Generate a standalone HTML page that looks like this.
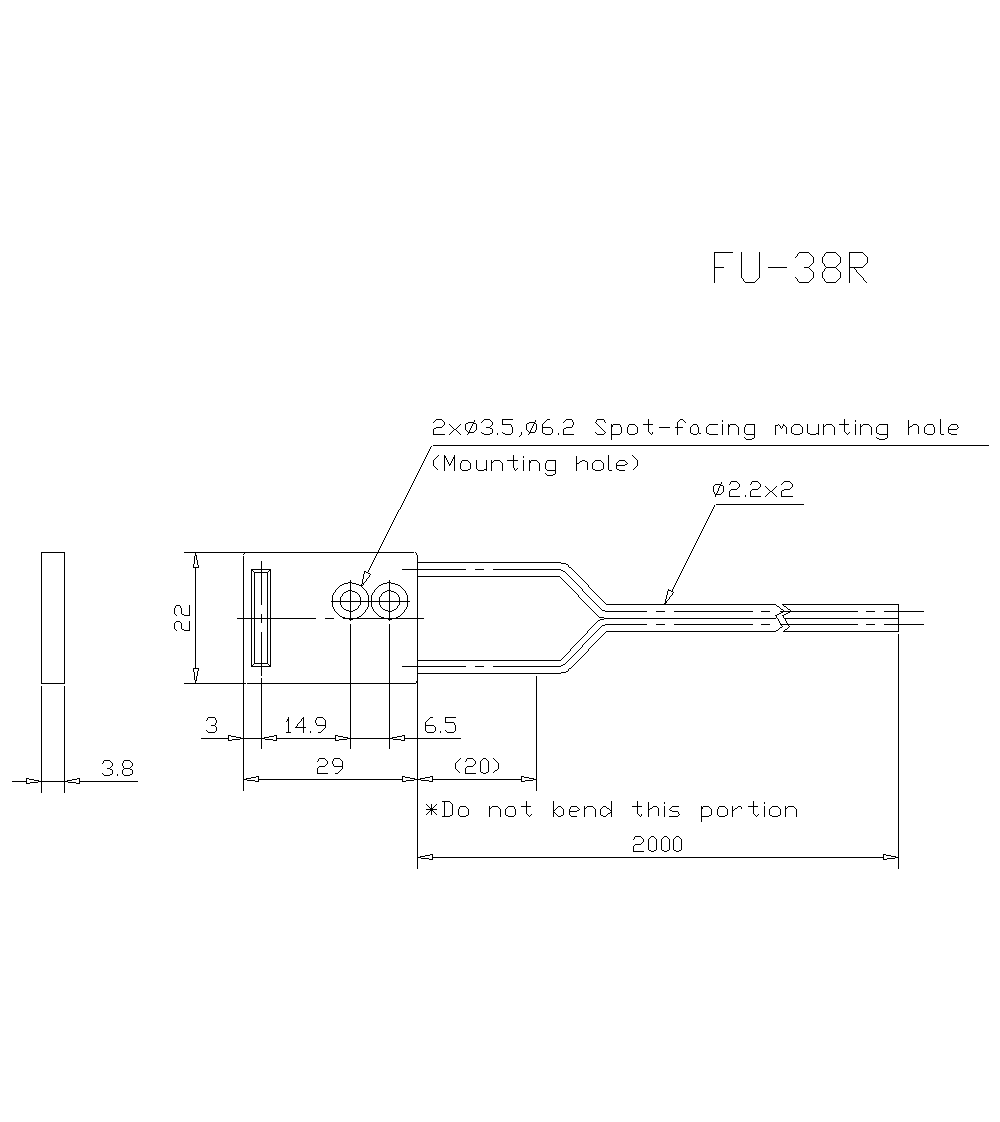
<!DOCTYPE html>
<html><head><meta charset="utf-8"><title>FU-38R</title><style>
html,body{margin:0;padding:0;background:#fff;}
svg{display:block;}
</style></head><body>
<svg width="1000" height="1122" viewBox="0 0 1000 1122">
<rect width="1000" height="1122" fill="#fff"/>
<path fill="#000" shape-rendering="crispEdges" d="M26 778h1v6h-1zM41 552h1v132h-1zM41 686h1v107h-1zM64 552h1v132h-1zM64 686h1v107h-1zM79 778h1v6h-1zM112 770h1v4h-1zM122 770h1v4h-1zM132 770h1v4h-1zM174 608h1v6h-1zM174 623h1v6h-1zM181 608h1v6h-1zM181 623h1v6h-1zM189 605h1v11h-1zM189 621h1v10h-1zM193 564h1v4h-1zM193 668h1v4h-1zM194 556h1v8h-1zM194 672h1v8h-1zM195 552h1v4h-1zM195 567h1v102h-1zM195 680h1v4h-1zM196 555h1v5h-1zM196 676h1v5h-1zM197 560h1v5h-1zM197 671h1v5h-1zM216 727h1v4h-1zM228 735h1v6h-1zM243 556h1v235h-1zM251 569h1v98h-1zM254 572h1v92h-1zM258 776h1v6h-1zM261 561h1v44h-1zM261 614h1v9h-1zM261 632h1v44h-1zM261 678h1v71h-1zM267 572h1v92h-1zM270 569h1v98h-1zM276 735h1v6h-1zM288 717h1v16h-1zM303 717h1v16h-1zM317 768h1v6h-1zM325 720h1v8h-1zM332 595h1v12h-1zM335 735h1v6h-1zM340 597h1v8h-1zM342 761h1v8h-1zM350 580h1v41h-1zM350 624h1v125h-1zM360 597h1v8h-1zM362 579h1v5h-1zM363 574h1v5h-1zM368 595h1v12h-1zM371 595h1v12h-1zM379 597h1v8h-1zM389 580h1v41h-1zM389 624h1v125h-1zM399 597h1v8h-1zM402 776h1v6h-1zM404 735h1v6h-1zM407 595h1v12h-1zM417 555h1v314h-1zM425 722h1v9h-1zM431 804h1v11h-1zM432 776h1v6h-1zM432 854h1v6h-1zM433 429h1v6h-1zM433 460h1v6h-1zM435 727h1v4h-1zM444 455h1v16h-1zM444 801h1v16h-1zM445 717h1v6h-1zM452 804h1v11h-1zM454 455h1v16h-1zM455 725h1v6h-1zM455 763h1v6h-1zM458 809h1v6h-1zM460 463h1v6h-1zM465 424h1v6h-1zM465 768h1v6h-1zM468 809h1v6h-1zM470 463h1v6h-1zM476 424h1v6h-1zM476 460h1v9h-1zM480 761h1v11h-1zM486 460h1v11h-1zM488 761h1v11h-1zM489 806h1v11h-1zM491 460h1v11h-1zM492 429h1v4h-1zM498 763h1v6h-1zM500 809h1v8h-1zM502 419h1v6h-1zM502 463h1v8h-1zM505 809h1v6h-1zM512 427h1v6h-1zM513 455h1v13h-1zM515 809h1v6h-1zM521 776h1v6h-1zM523 460h1v11h-1zM526 424h1v6h-1zM526 801h1v13h-1zM529 460h1v11h-1zM536 424h1v6h-1zM536 676h1v115h-1zM539 463h1v8h-1zM542 424h1v9h-1zM545 463h1v6h-1zM552 429h1v4h-1zM553 801h1v16h-1zM555 460h1v14h-1zM563 429h1v6h-1zM563 809h1v6h-1zM569 809h1v6h-1zM576 456h1v15h-1zM584 806h1v11h-1zM587 462h1v8h-1zM592 463h1v6h-1zM595 809h1v8h-1zM600 809h1v6h-1zM603 463h1v6h-1zM608 455h1v15h-1zM611 424h1v16h-1zM611 801h1v16h-1zM616 463h1v6h-1zM621 427h1v6h-1zM627 427h1v6h-1zM633 846h1v6h-1zM637 427h1v6h-1zM637 460h1v6h-1zM637 801h1v13h-1zM648 419h1v13h-1zM648 802h1v15h-1zM648 839h1v11h-1zM656 839h1v11h-1zM658 808h1v8h-1zM661 839h1v11h-1zM664 806h1v11h-1zM665 599h1v6h-1zM666 595h1v4h-1zM667 591h1v4h-1zM669 839h1v11h-1zM673 839h1v11h-1zM677 422h1v13h-1zM681 839h1v11h-1zM690 427h1v6h-1zM698 427h1v6h-1zM701 806h1v16h-1zM706 427h1v6h-1zM711 809h1v6h-1zM713 486h1v6h-1zM714 252h1v31h-1zM717 809h1v6h-1zM722 424h1v11h-1zM723 486h1v6h-1zM727 809h1v6h-1zM728 424h1v11h-1zM729 491h1v6h-1zM732 806h1v11h-1zM738 427h1v8h-1zM741 252h1v26h-1zM744 427h1v6h-1zM750 491h1v6h-1zM753 801h1v13h-1zM754 424h1v14h-1zM759 252h1v26h-1zM764 806h1v11h-1zM769 809h1v6h-1zM775 425h1v10h-1zM780 809h1v6h-1zM781 491h1v6h-1zM785 806h1v11h-1zM786 427h1v7h-1zM791 427h1v6h-1zM796 809h1v8h-1zM802 427h1v6h-1zM807 424h1v9h-1zM813 257h1v6h-1zM813 272h1v6h-1zM818 424h1v11h-1zM822 257h1v6h-1zM822 272h1v6h-1zM823 424h1v11h-1zM834 427h1v8h-1zM840 257h1v6h-1zM840 272h1v6h-1zM844 419h1v13h-1zM849 252h1v31h-1zM855 424h1v11h-1zM860 424h1v11h-1zM867 257h1v6h-1zM871 427h1v8h-1zM876 427h1v6h-1zM883 854h1v6h-1zM887 424h1v14h-1zM898 604h1v28h-1zM898 634h1v235h-1zM908 420h1v15h-1zM918 426h1v8h-1zM924 427h1v6h-1zM934 427h1v6h-1zM940 419h1v15h-1zM948 427h1v6h-1zM715 252h18v1h-18zM799 252h10v1h-10zM826 252h10v1h-10zM850 252h13v1h-13zM798 253h1v1h-1zM809 253h1v1h-1zM825 253h1v1h-1zM836 253h1v1h-1zM863 253h1v1h-1zM797 254h1v1h-1zM810 254h1v1h-1zM824 254h1v1h-1zM837 254h1v1h-1zM864 254h1v1h-1zM797 255h1v1h-1zM811 255h1v1h-1zM824 255h1v1h-1zM838 255h1v1h-1zM865 255h1v1h-1zM796 256h1v1h-1zM812 256h1v1h-1zM823 256h1v1h-1zM839 256h1v1h-1zM866 256h1v1h-1zM795 257h1v1h-1zM812 263h1v1h-1zM823 263h1v1h-1zM839 263h1v1h-1zM866 263h1v1h-1zM811 264h1v1h-1zM824 264h1v1h-1zM838 264h1v1h-1zM865 264h1v1h-1zM810 265h1v1h-1zM824 265h1v1h-1zM837 265h1v1h-1zM864 265h1v1h-1zM809 266h1v1h-1zM825 266h1v1h-1zM836 266h1v1h-1zM863 266h1v1h-1zM715 267h9v1h-9zM768 267h19v1h-19zM804 267h5v1h-5zM826 267h10v1h-10zM850 267h13v1h-13zM809 268h1v1h-1zM825 268h1v1h-1zM836 268h1v1h-1zM854 268h1v1h-1zM810 269h1v1h-1zM824 269h1v1h-1zM837 269h1v1h-1zM855 269h1v1h-1zM811 270h1v1h-1zM824 270h1v1h-1zM838 270h1v1h-1zM856 270h1v1h-1zM812 271h1v1h-1zM823 271h1v1h-1zM839 271h1v1h-1zM856 271h1v1h-1zM857 272h1v1h-1zM858 273h1v1h-1zM859 274h1v1h-1zM860 275h1v1h-1zM861 276h1v1h-1zM795 277h1v1h-1zM862 277h1v1h-1zM742 278h1v1h-1zM758 278h1v1h-1zM796 278h1v1h-1zM812 278h1v1h-1zM823 278h1v1h-1zM839 278h1v1h-1zM863 278h1v1h-1zM743 279h1v1h-1zM757 279h1v1h-1zM797 279h1v1h-1zM811 279h1v1h-1zM824 279h1v1h-1zM838 279h1v1h-1zM863 279h1v1h-1zM743 280h1v1h-1zM756 280h1v1h-1zM797 280h1v1h-1zM810 280h1v1h-1zM824 280h1v1h-1zM837 280h1v1h-1zM864 280h1v1h-1zM744 281h1v1h-1zM755 281h1v1h-1zM798 281h1v1h-1zM809 281h1v1h-1zM825 281h1v1h-1zM836 281h1v1h-1zM865 281h1v1h-1zM745 282h10v1h-10zM799 282h10v1h-10zM826 282h10v1h-10zM866 282h1v1h-1zM436 419h6v1h-6zM484 419h6v1h-6zM503 419h10v1h-10zM547 419h3v1h-3zM566 419h6v1h-6zM597 419h7v1h-7zM680 419h3v1h-3zM435 420h1v1h-1zM442 420h1v1h-1zM474 420h1v1h-1zM483 420h1v1h-1zM490 420h1v1h-1zM535 420h1v1h-1zM546 420h1v1h-1zM565 420h1v1h-1zM572 420h1v1h-1zM596 420h1v1h-1zM604 420h1v1h-1zM679 420h1v1h-1zM683 420h1v1h-1zM722 420h1v1h-1zM855 420h1v1h-1zM434 421h1v1h-1zM443 421h1v1h-1zM474 421h1v1h-1zM482 421h1v1h-1zM491 421h1v1h-1zM535 421h1v1h-1zM545 421h1v1h-1zM564 421h1v1h-1zM572 421h1v1h-1zM596 421h1v1h-1zM604 421h1v1h-1zM678 421h1v1h-1zM684 421h1v1h-1zM722 421h1v1h-1zM855 421h1v1h-1zM433 422h1v1h-1zM444 422h1v1h-1zM468 422h6v1h-6zM481 422h1v1h-1zM492 422h1v1h-1zM529 422h6v1h-6zM544 422h1v1h-1zM563 422h1v1h-1zM573 422h1v1h-1zM595 422h1v1h-1zM605 422h1v1h-1zM685 422h1v1h-1zM444 423h1v1h-1zM466 423h2v1h-2zM473 423h3v1h-3zM492 423h1v1h-1zM527 423h2v1h-2zM534 423h2v1h-2zM543 423h1v1h-1zM573 423h1v1h-1zM596 423h1v1h-1zM444 424h1v1h-1zM449 424h1v1h-1zM460 424h1v1h-1zM472 424h1v1h-1zM492 424h1v1h-1zM503 424h8v1h-8zM533 424h1v1h-1zM573 424h1v1h-1zM597 424h1v1h-1zM613 424h7v1h-7zM629 424h6v1h-6zM643 424h5v1h-5zM649 424h4v1h-4zM693 424h4v1h-4zM709 424h9v1h-9zM730 424h6v1h-6zM746 424h8v1h-8zM778 424h1v1h-1zM783 424h1v1h-1zM794 424h6v1h-6zM826 424h6v1h-6zM839 424h5v1h-5zM845 424h4v1h-4zM863 424h6v1h-6zM879 424h8v1h-8zM913 424h4v1h-4zM927 424h6v1h-6zM951 424h6v1h-6zM443 425h1v1h-1zM450 425h1v1h-1zM459 425h1v1h-1zM472 425h1v1h-1zM491 425h1v1h-1zM511 425h1v1h-1zM533 425h1v1h-1zM572 425h1v1h-1zM598 425h1v1h-1zM612 425h1v1h-1zM620 425h1v1h-1zM628 425h1v1h-1zM635 425h1v1h-1zM692 425h1v1h-1zM697 425h1v1h-1zM708 425h1v1h-1zM729 425h1v1h-1zM736 425h1v1h-1zM745 425h1v1h-1zM776 425h2v1h-2zM779 425h1v1h-1zM783 425h2v1h-2zM793 425h1v1h-1zM800 425h1v1h-1zM825 425h1v1h-1zM832 425h1v1h-1zM862 425h1v1h-1zM869 425h1v1h-1zM878 425h1v1h-1zM912 425h1v1h-1zM917 425h1v1h-1zM926 425h1v1h-1zM933 425h1v1h-1zM950 425h1v1h-1zM957 425h1v1h-1zM442 426h1v1h-1zM451 426h1v1h-1zM458 426h1v1h-1zM471 426h1v1h-1zM490 426h1v1h-1zM511 426h1v1h-1zM532 426h1v1h-1zM572 426h1v1h-1zM599 426h1v1h-1zM612 426h1v1h-1zM620 426h1v1h-1zM628 426h1v1h-1zM636 426h1v1h-1zM691 426h1v1h-1zM697 426h1v1h-1zM707 426h1v1h-1zM729 426h1v1h-1zM737 426h1v1h-1zM745 426h1v1h-1zM780 426h1v1h-1zM782 426h1v1h-1zM785 426h1v1h-1zM792 426h1v1h-1zM801 426h1v1h-1zM824 426h1v1h-1zM833 426h1v1h-1zM861 426h1v1h-1zM870 426h1v1h-1zM877 426h1v1h-1zM910 426h2v1h-2zM925 426h1v1h-1zM933 426h1v1h-1zM949 426h1v1h-1zM957 426h1v1h-1zM436 427h6v1h-6zM452 427h1v1h-1zM457 427h1v1h-1zM471 427h1v1h-1zM486 427h4v1h-4zM532 427h1v1h-1zM543 427h8v1h-8zM566 427h6v1h-6zM600 427h1v1h-1zM659 427h11v1h-11zM675 427h2v1h-2zM678 427h5v1h-5zM780 427h1v1h-1zM782 427h1v1h-1zM909 427h1v1h-1zM958 427h1v1h-1zM434 428h2v1h-2zM453 428h1v1h-1zM456 428h1v1h-1zM470 428h1v1h-1zM490 428h2v1h-2zM531 428h1v1h-1zM551 428h1v1h-1zM564 428h2v1h-2zM601 428h1v1h-1zM781 428h1v1h-1zM957 428h1v1h-1zM454 429h2v1h-2zM470 429h1v1h-1zM531 429h1v1h-1zM602 429h1v1h-1zM949 429h8v1h-8zM453 430h1v1h-1zM456 430h1v1h-1zM466 430h1v1h-1zM469 430h1v1h-1zM475 430h1v1h-1zM527 430h1v1h-1zM530 430h1v1h-1zM535 430h1v1h-1zM603 430h1v1h-1zM452 431h1v1h-1zM457 431h1v1h-1zM467 431h1v1h-1zM469 431h1v1h-1zM474 431h1v1h-1zM528 431h1v1h-1zM530 431h1v1h-1zM535 431h1v1h-1zM604 431h1v1h-1zM451 432h1v1h-1zM458 432h1v1h-1zM468 432h6v1h-6zM481 432h1v1h-1zM502 432h1v1h-1zM521 432h1v1h-1zM529 432h6v1h-6zM595 432h1v1h-1zM605 432h1v1h-1zM649 432h1v1h-1zM652 432h1v1h-1zM845 432h1v1h-1zM849 432h1v1h-1zM450 433h1v1h-1zM459 433h1v1h-1zM468 433h1v1h-1zM482 433h2v1h-2zM490 433h2v1h-2zM497 433h1v1h-1zM503 433h2v1h-2zM511 433h1v1h-1zM521 433h1v1h-1zM529 433h1v1h-1zM543 433h2v1h-2zM551 433h1v1h-1zM558 433h1v1h-1zM596 433h1v1h-1zM604 433h1v1h-1zM620 433h1v1h-1zM628 433h1v1h-1zM635 433h2v1h-2zM650 433h1v1h-1zM652 433h1v1h-1zM691 433h2v1h-2zM697 433h1v1h-1zM699 433h2v1h-2zM707 433h2v1h-2zM745 433h1v1h-1zM792 433h2v1h-2zM800 433h2v1h-2zM808 433h2v1h-2zM816 433h2v1h-2zM846 433h1v1h-1zM848 433h1v1h-1zM877 433h2v1h-2zM925 433h2v1h-2zM933 433h1v1h-1zM949 433h2v1h-2zM434 434h11v1h-11zM449 434h1v1h-1zM460 434h1v1h-1zM467 434h1v1h-1zM484 434h6v1h-6zM497 434h1v1h-1zM505 434h6v1h-6zM521 434h1v1h-1zM528 434h1v1h-1zM545 434h6v1h-6zM558 434h1v1h-1zM564 434h10v1h-10zM597 434h7v1h-7zM612 434h8v1h-8zM629 434h6v1h-6zM651 434h1v1h-1zM693 434h4v1h-4zM709 434h9v1h-9zM746 434h8v1h-8zM794 434h6v1h-6zM810 434h6v1h-6zM847 434h1v1h-1zM879 434h8v1h-8zM927 434h6v1h-6zM941 434h3v1h-3zM951 434h6v1h-6zM520 435h1v1h-1zM519 436h1v1h-1zM744 437h1v1h-1zM876 437h1v1h-1zM745 438h1v1h-1zM752 438h2v1h-2zM877 438h2v1h-2zM885 438h2v1h-2zM746 439h6v1h-6zM879 439h6v1h-6zM433 445h556v1h-556zM431 446h1v1h-1zM430 447h1v1h-1zM430 448h1v1h-1zM429 449h1v1h-1zM429 450h1v1h-1zM428 451h1v1h-1zM428 452h1v1h-1zM427 453h1v1h-1zM427 454h1v1h-1zM426 455h1v1h-1zM438 455h1v1h-1zM632 455h1v1h-1zM426 456h1v1h-1zM437 456h1v1h-1zM445 456h1v1h-1zM523 456h1v1h-1zM633 456h1v1h-1zM425 457h1v1h-1zM436 457h1v1h-1zM445 457h1v1h-1zM453 457h1v1h-1zM523 457h1v1h-1zM634 457h1v1h-1zM425 458h1v1h-1zM435 458h1v1h-1zM446 458h1v1h-1zM453 458h1v1h-1zM635 458h1v1h-1zM424 459h1v1h-1zM434 459h1v1h-1zM446 459h1v1h-1zM452 459h1v1h-1zM636 459h1v1h-1zM424 460h1v1h-1zM447 460h1v1h-1zM452 460h1v1h-1zM462 460h6v1h-6zM494 460h6v1h-6zM507 460h6v1h-6zM514 460h4v1h-4zM531 460h6v1h-6zM547 460h8v1h-8zM582 460h3v1h-3zM595 460h6v1h-6zM619 460h6v1h-6zM423 461h1v1h-1zM447 461h1v1h-1zM451 461h1v1h-1zM461 461h1v1h-1zM468 461h1v1h-1zM493 461h1v1h-1zM500 461h1v1h-1zM530 461h1v1h-1zM537 461h1v1h-1zM546 461h1v1h-1zM580 461h2v1h-2zM585 461h2v1h-2zM594 461h1v1h-1zM601 461h1v1h-1zM618 461h1v1h-1zM625 461h1v1h-1zM423 462h1v1h-1zM448 462h1v1h-1zM451 462h1v1h-1zM461 462h1v1h-1zM469 462h1v1h-1zM492 462h1v1h-1zM501 462h1v1h-1zM530 462h1v1h-1zM538 462h1v1h-1zM546 462h1v1h-1zM579 462h1v1h-1zM593 462h1v1h-1zM602 462h1v1h-1zM617 462h1v1h-1zM626 462h1v1h-1zM422 463h1v1h-1zM448 463h1v1h-1zM450 463h1v1h-1zM577 463h2v1h-2zM627 463h1v1h-1zM422 464h1v1h-1zM449 464h2v1h-2zM625 464h2v1h-2zM421 465h1v1h-1zM449 465h1v1h-1zM617 465h8v1h-8zM421 466h1v1h-1zM434 466h1v1h-1zM636 466h1v1h-1zM420 467h1v1h-1zM435 467h1v1h-1zM635 467h1v1h-1zM420 468h1v1h-1zM436 468h1v1h-1zM514 468h1v1h-1zM517 468h1v1h-1zM634 468h1v1h-1zM419 469h1v1h-1zM437 469h1v1h-1zM461 469h1v1h-1zM468 469h2v1h-2zM477 469h1v1h-1zM484 469h2v1h-2zM514 469h1v1h-1zM516 469h1v1h-1zM546 469h1v1h-1zM593 469h2v1h-2zM601 469h2v1h-2zM617 469h2v1h-2zM633 469h1v1h-1zM419 470h1v1h-1zM462 470h6v1h-6zM478 470h6v1h-6zM515 470h1v1h-1zM547 470h8v1h-8zM595 470h6v1h-6zM609 470h3v1h-3zM619 470h6v1h-6zM418 471h1v1h-1zM418 472h1v1h-1zM417 473h1v1h-1zM545 473h1v1h-1zM417 474h1v1h-1zM546 474h1v1h-1zM553 474h2v1h-2zM416 475h1v1h-1zM547 475h6v1h-6zM416 476h1v1h-1zM415 477h1v1h-1zM415 478h1v1h-1zM414 479h1v1h-1zM414 480h1v1h-1zM413 481h1v1h-1zM731 481h6v1h-6zM752 481h6v1h-6zM784 481h6v1h-6zM413 482h1v1h-1zM721 482h1v1h-1zM730 482h1v1h-1zM737 482h1v1h-1zM751 482h1v1h-1zM758 482h1v1h-1zM783 482h1v1h-1zM790 482h1v1h-1zM412 483h1v1h-1zM721 483h1v1h-1zM730 483h1v1h-1zM738 483h1v1h-1zM751 483h1v1h-1zM759 483h1v1h-1zM782 483h1v1h-1zM791 483h1v1h-1zM412 484h1v1h-1zM715 484h6v1h-6zM729 484h1v1h-1zM739 484h1v1h-1zM750 484h1v1h-1zM760 484h1v1h-1zM781 484h1v1h-1zM792 484h1v1h-1zM411 485h1v1h-1zM714 485h1v1h-1zM720 485h3v1h-3zM739 485h1v1h-1zM760 485h1v1h-1zM792 485h1v1h-1zM411 486h1v1h-1zM719 486h1v1h-1zM739 486h1v1h-1zM760 486h1v1h-1zM765 486h1v1h-1zM776 486h1v1h-1zM792 486h1v1h-1zM410 487h1v1h-1zM719 487h1v1h-1zM738 487h1v1h-1zM759 487h1v1h-1zM766 487h1v1h-1zM775 487h1v1h-1zM791 487h1v1h-1zM410 488h1v1h-1zM718 488h1v1h-1zM737 488h1v1h-1zM758 488h1v1h-1zM767 488h1v1h-1zM774 488h1v1h-1zM790 488h1v1h-1zM409 489h1v1h-1zM718 489h1v1h-1zM731 489h6v1h-6zM752 489h6v1h-6zM768 489h1v1h-1zM773 489h1v1h-1zM784 489h6v1h-6zM409 490h1v1h-1zM718 490h1v1h-1zM730 490h1v1h-1zM751 490h1v1h-1zM769 490h1v1h-1zM772 490h1v1h-1zM782 490h2v1h-2zM408 491h1v1h-1zM717 491h1v1h-1zM770 491h2v1h-2zM408 492h1v1h-1zM714 492h1v1h-1zM717 492h1v1h-1zM722 492h1v1h-1zM769 492h1v1h-1zM772 492h1v1h-1zM407 493h1v1h-1zM714 493h1v1h-1zM716 493h1v1h-1zM721 493h1v1h-1zM768 493h1v1h-1zM773 493h1v1h-1zM407 494h1v1h-1zM715 494h6v1h-6zM767 494h1v1h-1zM774 494h1v1h-1zM406 495h1v1h-1zM715 495h1v1h-1zM745 495h1v1h-1zM766 495h1v1h-1zM775 495h1v1h-1zM406 496h1v1h-1zM715 496h1v1h-1zM730 496h10v1h-10zM745 496h1v1h-1zM751 496h10v1h-10zM765 496h1v1h-1zM776 496h1v1h-1zM782 496h11v1h-11zM405 497h1v1h-1zM405 498h1v1h-1zM404 499h1v1h-1zM404 500h1v1h-1zM403 501h1v1h-1zM403 502h1v1h-1zM402 503h1v1h-1zM402 504h1v1h-1zM716 504h88v1h-88zM401 505h1v1h-1zM714 505h1v1h-1zM401 506h1v1h-1zM714 506h1v1h-1zM400 507h1v1h-1zM713 507h1v1h-1zM400 508h1v1h-1zM713 508h1v1h-1zM399 509h1v1h-1zM712 509h1v1h-1zM398 510h1v1h-1zM712 510h1v1h-1zM398 511h1v1h-1zM711 511h1v1h-1zM397 512h1v1h-1zM711 512h1v1h-1zM397 513h1v1h-1zM710 513h1v1h-1zM396 514h1v1h-1zM710 514h1v1h-1zM396 515h1v1h-1zM709 515h1v1h-1zM395 516h1v1h-1zM709 516h1v1h-1zM395 517h1v1h-1zM708 517h1v1h-1zM394 518h1v1h-1zM708 518h1v1h-1zM394 519h1v1h-1zM707 519h1v1h-1zM393 520h1v1h-1zM707 520h1v1h-1zM393 521h1v1h-1zM706 521h1v1h-1zM392 522h1v1h-1zM706 522h1v1h-1zM392 523h1v1h-1zM705 523h1v1h-1zM391 524h1v1h-1zM705 524h1v1h-1zM391 525h1v1h-1zM704 525h1v1h-1zM390 526h1v1h-1zM704 526h1v1h-1zM390 527h1v1h-1zM703 527h1v1h-1zM389 528h1v1h-1zM703 528h1v1h-1zM389 529h1v1h-1zM702 529h1v1h-1zM388 530h1v1h-1zM702 530h1v1h-1zM388 531h1v1h-1zM701 531h1v1h-1zM387 532h1v1h-1zM701 532h1v1h-1zM387 533h1v1h-1zM700 533h1v1h-1zM386 534h1v1h-1zM700 534h1v1h-1zM386 535h1v1h-1zM699 535h1v1h-1zM385 536h1v1h-1zM699 536h1v1h-1zM385 537h1v1h-1zM698 537h1v1h-1zM384 538h1v1h-1zM698 538h1v1h-1zM384 539h1v1h-1zM697 539h1v1h-1zM383 540h1v1h-1zM697 540h1v1h-1zM383 541h1v1h-1zM696 541h1v1h-1zM382 542h1v1h-1zM696 542h1v1h-1zM382 543h1v1h-1zM695 543h1v1h-1zM381 544h1v1h-1zM695 544h1v1h-1zM381 545h1v1h-1zM694 545h1v1h-1zM380 546h1v1h-1zM694 546h1v1h-1zM380 547h1v1h-1zM693 547h1v1h-1zM379 548h1v1h-1zM693 548h1v1h-1zM379 549h1v1h-1zM692 549h1v1h-1zM378 550h1v1h-1zM692 550h1v1h-1zM378 551h1v1h-1zM691 551h1v1h-1zM42 552h22v1h-22zM184 552h11v1h-11zM196 552h218v1h-218zM415 552h1v1h-1zM691 552h1v1h-1zM244 553h1v1h-1zM377 553h1v1h-1zM416 553h1v1h-1zM690 553h1v1h-1zM243 554h1v1h-1zM376 554h1v1h-1zM416 554h1v1h-1zM690 554h1v1h-1zM376 555h1v1h-1zM689 555h1v1h-1zM375 556h1v1h-1zM689 556h1v1h-1zM375 557h1v1h-1zM688 557h1v1h-1zM374 558h1v1h-1zM688 558h1v1h-1zM374 559h1v1h-1zM687 559h1v1h-1zM373 560h1v1h-1zM687 560h1v1h-1zM373 561h1v1h-1zM686 561h1v1h-1zM372 562h1v1h-1zM418 562h143v1h-143zM686 562h1v1h-1zM372 563h1v1h-1zM561 563h5v1h-5zM685 563h1v1h-1zM371 564h1v1h-1zM566 564h2v1h-2zM685 564h1v1h-1zM198 565h1v1h-1zM371 565h1v1h-1zM568 565h1v1h-1zM684 565h1v1h-1zM198 566h1v1h-1zM370 566h1v1h-1zM568 566h1v1h-1zM684 566h1v1h-1zM194 567h1v1h-1zM196 567h3v1h-3zM370 567h1v1h-1zM569 567h2v1h-2zM683 567h1v1h-1zM369 568h1v1h-1zM571 568h1v1h-1zM683 568h1v1h-1zM252 569h9v1h-9zM262 569h8v1h-8zM369 569h1v1h-1zM402 569h15v1h-15zM418 569h48v1h-48zM475 569h9v1h-9zM493 569h68v1h-68zM572 569h1v1h-1zM682 569h1v1h-1zM252 570h1v1h-1zM269 570h1v1h-1zM368 570h1v1h-1zM561 570h2v1h-2zM573 570h1v1h-1zM682 570h1v1h-1zM253 571h1v1h-1zM268 571h1v1h-1zM364 571h2v1h-2zM368 571h1v1h-1zM563 571h2v1h-2zM574 571h1v1h-1zM681 571h1v1h-1zM255 572h6v1h-6zM262 572h5v1h-5zM364 572h1v1h-1zM366 572h2v1h-2zM565 572h1v1h-1zM575 572h1v1h-1zM681 572h1v1h-1zM364 573h1v1h-1zM368 573h2v1h-2zM566 573h1v1h-1zM576 573h1v1h-1zM680 573h1v1h-1zM370 574h1v1h-1zM567 574h1v1h-1zM577 574h1v1h-1zM680 574h1v1h-1zM369 575h1v1h-1zM568 575h1v1h-1zM578 575h1v1h-1zM679 575h1v1h-1zM369 576h1v1h-1zM418 576h142v1h-142zM569 576h1v1h-1zM579 576h1v1h-1zM679 576h1v1h-1zM368 577h1v1h-1zM560 577h1v1h-1zM570 577h1v1h-1zM580 577h1v1h-1zM678 577h1v1h-1zM367 578h1v1h-1zM561 578h1v1h-1zM571 578h1v1h-1zM581 578h1v1h-1zM678 578h1v1h-1zM366 579h1v1h-1zM562 579h1v1h-1zM572 579h1v1h-1zM582 579h1v1h-1zM677 579h1v1h-1zM366 580h1v1h-1zM563 580h1v1h-1zM573 580h1v1h-1zM583 580h1v1h-1zM677 580h1v1h-1zM365 581h1v1h-1zM564 581h1v1h-1zM574 581h1v1h-1zM584 581h1v1h-1zM676 581h1v1h-1zM348 582h2v1h-2zM351 582h1v1h-1zM364 582h1v1h-1zM387 582h2v1h-2zM390 582h1v1h-1zM565 582h1v1h-1zM575 582h1v1h-1zM585 582h1v1h-1zM676 582h1v1h-1zM344 583h4v1h-4zM352 583h4v1h-4zM363 583h1v1h-1zM383 583h4v1h-4zM391 583h4v1h-4zM566 583h1v1h-1zM576 583h1v1h-1zM586 583h1v1h-1zM675 583h1v1h-1zM342 584h2v1h-2zM356 584h3v1h-3zM361 584h1v1h-1zM363 584h1v1h-1zM381 584h2v1h-2zM395 584h3v1h-3zM567 584h1v1h-1zM577 584h1v1h-1zM587 584h1v1h-1zM675 584h1v1h-1zM340 585h2v1h-2zM359 585h4v1h-4zM379 585h2v1h-2zM398 585h2v1h-2zM568 585h1v1h-1zM578 585h1v1h-1zM588 585h1v1h-1zM674 585h1v1h-1zM339 586h1v1h-1zM361 586h1v1h-1zM378 586h1v1h-1zM400 586h1v1h-1zM569 586h1v1h-1zM579 586h1v1h-1zM588 586h1v1h-1zM674 586h1v1h-1zM338 587h1v1h-1zM362 587h1v1h-1zM377 587h1v1h-1zM401 587h1v1h-1zM570 587h1v1h-1zM580 587h1v1h-1zM589 587h1v1h-1zM673 587h1v1h-1zM337 588h1v1h-1zM363 588h1v1h-1zM376 588h1v1h-1zM402 588h1v1h-1zM571 588h1v1h-1zM581 588h1v1h-1zM590 588h1v1h-1zM673 588h1v1h-1zM336 589h1v1h-1zM364 589h1v1h-1zM375 589h1v1h-1zM403 589h1v1h-1zM572 589h1v1h-1zM582 589h1v1h-1zM591 589h1v1h-1zM668 589h1v1h-1zM672 589h1v1h-1zM335 590h1v1h-1zM348 590h2v1h-2zM351 590h1v1h-1zM365 590h1v1h-1zM374 590h1v1h-1zM387 590h2v1h-2zM390 590h1v1h-1zM404 590h1v1h-1zM573 590h1v1h-1zM582 590h1v1h-1zM592 590h1v1h-1zM668 590h3v1h-3zM672 590h1v1h-1zM335 591h1v1h-1zM346 591h2v1h-2zM352 591h3v1h-3zM366 591h1v1h-1zM374 591h1v1h-1zM385 591h2v1h-2zM391 591h3v1h-3zM405 591h1v1h-1zM574 591h1v1h-1zM583 591h1v1h-1zM593 591h1v1h-1zM671 591h2v1h-2zM334 592h1v1h-1zM344 592h2v1h-2zM355 592h2v1h-2zM366 592h1v1h-1zM373 592h1v1h-1zM383 592h2v1h-2zM394 592h2v1h-2zM405 592h1v1h-1zM575 592h1v1h-1zM584 592h1v1h-1zM594 592h1v1h-1zM673 592h1v1h-1zM333 593h1v1h-1zM343 593h1v1h-1zM357 593h1v1h-1zM367 593h1v1h-1zM372 593h1v1h-1zM382 593h1v1h-1zM396 593h1v1h-1zM406 593h1v1h-1zM576 593h1v1h-1zM585 593h1v1h-1zM595 593h1v1h-1zM672 593h1v1h-1zM333 594h1v1h-1zM342 594h1v1h-1zM358 594h1v1h-1zM367 594h1v1h-1zM372 594h1v1h-1zM381 594h1v1h-1zM397 594h1v1h-1zM406 594h1v1h-1zM577 594h1v1h-1zM586 594h1v1h-1zM596 594h1v1h-1zM672 594h1v1h-1zM342 595h1v1h-1zM359 595h1v1h-1zM381 595h1v1h-1zM398 595h1v1h-1zM578 595h1v1h-1zM587 595h1v1h-1zM597 595h1v1h-1zM671 595h1v1h-1zM341 596h1v1h-1zM359 596h1v1h-1zM380 596h1v1h-1zM398 596h1v1h-1zM578 596h1v1h-1zM588 596h1v1h-1zM598 596h1v1h-1zM670 596h1v1h-1zM579 597h1v1h-1zM589 597h1v1h-1zM599 597h1v1h-1zM669 597h1v1h-1zM580 598h1v1h-1zM590 598h1v1h-1zM600 598h1v1h-1zM669 598h1v1h-1zM581 599h1v1h-1zM591 599h1v1h-1zM601 599h1v1h-1zM668 599h1v1h-1zM582 600h1v1h-1zM592 600h1v1h-1zM602 600h1v1h-1zM667 600h1v1h-1zM331 601h1v1h-1zM333 601h7v1h-7zM341 601h9v1h-9zM351 601h9v1h-9zM361 601h7v1h-7zM369 601h2v1h-2zM372 601h7v1h-7zM380 601h9v1h-9zM390 601h9v1h-9zM400 601h7v1h-7zM408 601h2v1h-2zM583 601h1v1h-1zM593 601h1v1h-1zM603 601h1v1h-1zM666 601h1v1h-1zM584 602h1v1h-1zM594 602h1v1h-1zM604 602h1v1h-1zM666 602h1v1h-1zM585 603h1v1h-1zM595 603h1v1h-1zM605 603h1v1h-1zM664 603h1v1h-1zM586 604h1v1h-1zM596 604h1v1h-1zM606 604h59v1h-59zM666 604h110v1h-110zM782 604h116v1h-116zM176 605h4v1h-4zM341 605h1v1h-1zM359 605h1v1h-1zM380 605h1v1h-1zM398 605h1v1h-1zM587 605h1v1h-1zM597 605h1v1h-1zM776 605h1v1h-1zM783 605h1v1h-1zM175 606h1v1h-1zM180 606h1v1h-1zM341 606h1v1h-1zM358 606h1v1h-1zM380 606h1v1h-1zM397 606h1v1h-1zM588 606h1v1h-1zM598 606h1v1h-1zM777 606h2v1h-2zM784 606h2v1h-2zM175 607h1v1h-1zM180 607h1v1h-1zM333 607h1v1h-1zM342 607h1v1h-1zM358 607h1v1h-1zM367 607h1v1h-1zM372 607h1v1h-1zM381 607h1v1h-1zM397 607h1v1h-1zM406 607h1v1h-1zM589 607h1v1h-1zM599 607h1v1h-1zM779 607h1v1h-1zM786 607h1v1h-1zM333 608h1v1h-1zM343 608h1v1h-1zM357 608h1v1h-1zM367 608h1v1h-1zM372 608h1v1h-1zM382 608h1v1h-1zM396 608h1v1h-1zM406 608h1v1h-1zM590 608h1v1h-1zM600 608h1v1h-1zM780 608h1v1h-1zM787 608h1v1h-1zM334 609h1v1h-1zM344 609h2v1h-2zM355 609h2v1h-2zM366 609h1v1h-1zM373 609h1v1h-1zM383 609h2v1h-2zM394 609h2v1h-2zM405 609h1v1h-1zM591 609h1v1h-1zM601 609h1v1h-1zM781 609h2v1h-2zM788 609h2v1h-2zM334 610h1v1h-1zM346 610h3v1h-3zM353 610h2v1h-2zM365 610h1v1h-1zM373 610h1v1h-1zM385 610h3v1h-3zM392 610h2v1h-2zM404 610h1v1h-1zM592 610h1v1h-1zM602 610h3v1h-3zM783 610h1v1h-1zM790 610h1v1h-1zM335 611h1v1h-1zM349 611h1v1h-1zM351 611h2v1h-2zM365 611h1v1h-1zM374 611h1v1h-1zM388 611h1v1h-1zM390 611h2v1h-2zM404 611h1v1h-1zM593 611h1v1h-1zM605 611h42v1h-42zM656 611h9v1h-9zM674 611h79v1h-79zM761 611h9v1h-9zM780 611h78v1h-78zM866 611h9v1h-9zM884 611h14v1h-14zM899 611h25v1h-25zM336 612h1v1h-1zM364 612h1v1h-1zM375 612h1v1h-1zM403 612h1v1h-1zM594 612h1v1h-1zM781 612h2v1h-2zM788 612h2v1h-2zM337 613h1v1h-1zM363 613h1v1h-1zM376 613h1v1h-1zM402 613h1v1h-1zM595 613h1v1h-1zM779 613h2v1h-2zM786 613h2v1h-2zM175 614h1v1h-1zM182 614h2v1h-2zM338 614h1v1h-1zM362 614h1v1h-1zM377 614h1v1h-1zM401 614h1v1h-1zM596 614h1v1h-1zM777 614h2v1h-2zM784 614h2v1h-2zM176 615h1v1h-1zM184 615h5v1h-5zM339 615h1v1h-1zM361 615h1v1h-1zM378 615h1v1h-1zM400 615h1v1h-1zM597 615h1v1h-1zM775 615h2v1h-2zM782 615h2v1h-2zM340 616h2v1h-2zM359 616h2v1h-2zM379 616h2v1h-2zM398 616h2v1h-2zM598 616h1v1h-1zM776 616h1v1h-1zM783 616h1v1h-1zM342 617h3v1h-3zM357 617h2v1h-2zM381 617h3v1h-3zM396 617h2v1h-2zM599 617h5v1h-5zM776 617h1v1h-1zM783 617h1v1h-1zM237 618h6v1h-6zM244 618h7v1h-7zM252 618h2v1h-2zM255 618h6v1h-6zM262 618h5v1h-5zM268 618h2v1h-2zM271 618h45v1h-45zM325 618h9v1h-9zM343 618h7v1h-7zM351 618h38v1h-38zM390 618h27v1h-27zM418 618h6v1h-6zM604 618h172v1h-172zM777 618h1v1h-1zM784 618h114v1h-114zM349 619h1v1h-1zM351 619h2v1h-2zM388 619h1v1h-1zM390 619h2v1h-2zM600 619h4v1h-4zM778 619h1v1h-1zM785 619h1v1h-1zM598 620h2v1h-2zM778 620h1v1h-1zM785 620h1v1h-1zM176 621h4v1h-4zM597 621h1v1h-1zM779 621h1v1h-1zM786 621h1v1h-1zM175 622h1v1h-1zM180 622h1v1h-1zM596 622h1v1h-1zM779 622h1v1h-1zM786 622h1v1h-1zM595 623h1v1h-1zM780 623h1v1h-1zM787 623h1v1h-1zM594 624h1v1h-1zM605 624h42v1h-42zM656 624h9v1h-9zM674 624h79v1h-79zM761 624h9v1h-9zM780 624h78v1h-78zM866 624h9v1h-9zM884 624h14v1h-14zM899 624h25v1h-25zM593 625h1v1h-1zM602 625h3v1h-3zM781 625h1v1h-1zM788 625h1v1h-1zM592 626h1v1h-1zM601 626h1v1h-1zM782 626h1v1h-1zM789 626h1v1h-1zM591 627h1v1h-1zM600 627h1v1h-1zM780 627h2v1h-2zM788 627h1v1h-1zM590 628h1v1h-1zM599 628h1v1h-1zM779 628h1v1h-1zM787 628h1v1h-1zM175 629h1v1h-1zM182 629h2v1h-2zM589 629h1v1h-1zM598 629h1v1h-1zM778 629h1v1h-1zM785 629h2v1h-2zM176 630h1v1h-1zM184 630h5v1h-5zM588 630h1v1h-1zM597 630h1v1h-1zM776 630h2v1h-2zM784 630h1v1h-1zM587 631h1v1h-1zM596 631h1v1h-1zM606 631h170v1h-170zM783 631h115v1h-115zM587 632h1v1h-1zM595 632h1v1h-1zM605 632h1v1h-1zM586 633h1v1h-1zM594 633h1v1h-1zM604 633h1v1h-1zM585 634h1v1h-1zM593 634h1v1h-1zM603 634h1v1h-1zM584 635h1v1h-1zM592 635h1v1h-1zM602 635h1v1h-1zM583 636h1v1h-1zM591 636h1v1h-1zM601 636h1v1h-1zM582 637h1v1h-1zM590 637h1v1h-1zM600 637h1v1h-1zM581 638h1v1h-1zM589 638h1v1h-1zM599 638h1v1h-1zM580 639h1v1h-1zM588 639h1v1h-1zM598 639h1v1h-1zM579 640h1v1h-1zM587 640h1v1h-1zM597 640h1v1h-1zM578 641h1v1h-1zM586 641h1v1h-1zM596 641h1v1h-1zM577 642h1v1h-1zM585 642h1v1h-1zM595 642h1v1h-1zM576 643h1v1h-1zM584 643h1v1h-1zM594 643h1v1h-1zM575 644h1v1h-1zM583 644h1v1h-1zM593 644h1v1h-1zM574 645h1v1h-1zM582 645h1v1h-1zM592 645h1v1h-1zM573 646h1v1h-1zM582 646h1v1h-1zM591 646h1v1h-1zM572 647h1v1h-1zM581 647h1v1h-1zM590 647h1v1h-1zM571 648h1v1h-1zM580 648h1v1h-1zM589 648h1v1h-1zM570 649h1v1h-1zM579 649h1v1h-1zM588 649h1v1h-1zM570 650h1v1h-1zM578 650h1v1h-1zM588 650h1v1h-1zM569 651h1v1h-1zM577 651h1v1h-1zM587 651h1v1h-1zM568 652h1v1h-1zM576 652h1v1h-1zM586 652h1v1h-1zM567 653h1v1h-1zM575 653h1v1h-1zM585 653h1v1h-1zM566 654h1v1h-1zM574 654h1v1h-1zM584 654h1v1h-1zM565 655h1v1h-1zM573 655h1v1h-1zM583 655h1v1h-1zM564 656h1v1h-1zM572 656h1v1h-1zM582 656h1v1h-1zM563 657h1v1h-1zM571 657h1v1h-1zM581 657h1v1h-1zM562 658h1v1h-1zM570 658h1v1h-1zM580 658h1v1h-1zM561 659h1v1h-1zM569 659h1v1h-1zM579 659h1v1h-1zM418 660h143v1h-143zM568 660h1v1h-1zM578 660h1v1h-1zM567 661h1v1h-1zM577 661h1v1h-1zM566 662h1v1h-1zM576 662h1v1h-1zM255 663h6v1h-6zM262 663h5v1h-5zM565 663h1v1h-1zM575 663h1v1h-1zM253 664h1v1h-1zM268 664h1v1h-1zM563 664h2v1h-2zM574 664h1v1h-1zM252 665h1v1h-1zM269 665h1v1h-1zM561 665h2v1h-2zM573 665h1v1h-1zM252 666h9v1h-9zM262 666h8v1h-8zM402 666h15v1h-15zM418 666h48v1h-48zM475 666h9v1h-9zM493 666h68v1h-68zM572 666h1v1h-1zM571 667h1v1h-1zM194 668h1v1h-1zM196 668h3v1h-3zM569 668h2v1h-2zM198 669h1v1h-1zM568 669h1v1h-1zM198 670h1v1h-1zM568 670h1v1h-1zM566 671h2v1h-2zM561 672h5v1h-5zM418 673h143v1h-143zM416 681h1v1h-1zM416 682h1v1h-1zM42 683h22v1h-22zM184 683h11v1h-11zM196 683h47v1h-47zM244 683h2v1h-2zM247 683h14v1h-14zM262 683h88v1h-88zM351 683h38v1h-38zM390 683h26v1h-26zM208 717h7v1h-7zM317 717h6v1h-6zM430 717h3v1h-3zM446 717h10v1h-10zM207 718h1v1h-1zM215 718h1v1h-1zM302 718h1v1h-1zM316 718h1v1h-1zM323 718h1v1h-1zM429 718h1v1h-1zM207 719h1v1h-1zM215 719h1v1h-1zM287 719h1v1h-1zM301 719h1v1h-1zM316 719h1v1h-1zM324 719h1v1h-1zM428 719h1v1h-1zM206 720h1v1h-1zM216 720h1v1h-1zM287 720h1v1h-1zM301 720h1v1h-1zM315 720h1v1h-1zM427 720h1v1h-1zM216 721h1v1h-1zM286 721h1v1h-1zM300 721h1v1h-1zM315 721h1v1h-1zM426 721h1v1h-1zM216 722h1v1h-1zM299 722h1v1h-1zM315 722h1v1h-1zM446 722h8v1h-8zM215 723h1v1h-1zM298 723h1v1h-1zM316 723h1v1h-1zM454 723h1v1h-1zM215 724h1v1h-1zM297 724h1v1h-1zM316 724h1v1h-1zM454 724h1v1h-1zM211 725h4v1h-4zM297 725h1v1h-1zM317 725h8v1h-8zM426 725h8v1h-8zM215 726h1v1h-1zM296 726h1v1h-1zM434 726h1v1h-1zM295 727h8v1h-8zM304 727h2v1h-2zM324 728h1v1h-1zM323 729h1v1h-1zM206 730h1v1h-1zM322 730h1v1h-1zM445 730h1v1h-1zM207 731h1v1h-1zM215 731h1v1h-1zM310 731h1v1h-1zM321 731h1v1h-1zM426 731h1v1h-1zM434 731h1v1h-1zM440 731h1v1h-1zM446 731h1v1h-1zM454 731h1v1h-1zM208 732h7v1h-7zM286 732h2v1h-2zM289 732h2v1h-2zM310 732h1v1h-1zM318 732h3v1h-3zM427 732h7v1h-7zM440 732h1v1h-1zM447 732h7v1h-7zM229 735h2v1h-2zM274 735h2v1h-2zM336 735h2v1h-2zM402 735h2v1h-2zM231 736h5v1h-5zM269 736h5v1h-5zM338 736h5v1h-5zM397 736h5v1h-5zM236 737h5v1h-5zM264 737h5v1h-5zM343 737h5v1h-5zM392 737h5v1h-5zM201 738h27v1h-27zM240 738h3v1h-3zM244 738h17v1h-17zM262 738h3v1h-3zM277 738h58v1h-58zM347 738h3v1h-3zM351 738h38v1h-38zM390 738h3v1h-3zM405 738h12v1h-12zM418 738h43v1h-43zM232 739h8v1h-8zM265 739h8v1h-8zM339 739h8v1h-8zM393 739h8v1h-8zM229 740h3v1h-3zM273 740h3v1h-3zM336 740h3v1h-3zM401 740h3v1h-3zM319 758h6v1h-6zM334 758h6v1h-6zM460 758h1v1h-1zM467 758h6v1h-6zM483 758h3v1h-3zM493 758h1v1h-1zM318 759h1v1h-1zM325 759h1v1h-1zM333 759h1v1h-1zM340 759h1v1h-1zM459 759h1v1h-1zM466 759h1v1h-1zM473 759h1v1h-1zM482 759h1v1h-1zM486 759h1v1h-1zM494 759h1v1h-1zM104 760h6v1h-6zM124 760h6v1h-6zM318 760h1v1h-1zM326 760h1v1h-1zM333 760h1v1h-1zM341 760h1v1h-1zM458 760h1v1h-1zM466 760h1v1h-1zM474 760h1v1h-1zM481 760h1v1h-1zM487 760h1v1h-1zM495 760h1v1h-1zM103 761h1v1h-1zM110 761h1v1h-1zM123 761h1v1h-1zM130 761h1v1h-1zM317 761h1v1h-1zM327 761h1v1h-1zM332 761h1v1h-1zM457 761h1v1h-1zM465 761h1v1h-1zM475 761h1v1h-1zM496 761h1v1h-1zM103 762h1v1h-1zM111 762h1v1h-1zM123 762h1v1h-1zM131 762h1v1h-1zM327 762h1v1h-1zM332 762h1v1h-1zM456 762h1v1h-1zM475 762h1v1h-1zM497 762h1v1h-1zM102 763h1v1h-1zM112 763h1v1h-1zM122 763h1v1h-1zM132 763h1v1h-1zM327 763h1v1h-1zM332 763h1v1h-1zM475 763h1v1h-1zM112 764h1v1h-1zM122 764h1v1h-1zM132 764h1v1h-1zM326 764h1v1h-1zM333 764h1v1h-1zM474 764h1v1h-1zM112 765h1v1h-1zM122 765h1v1h-1zM132 765h1v1h-1zM325 765h1v1h-1zM333 765h1v1h-1zM473 765h1v1h-1zM111 766h1v1h-1zM123 766h1v1h-1zM131 766h1v1h-1zM319 766h6v1h-6zM334 766h8v1h-8zM467 766h6v1h-6zM110 767h1v1h-1zM123 767h1v1h-1zM130 767h1v1h-1zM318 767h1v1h-1zM466 767h1v1h-1zM107 768h3v1h-3zM124 768h6v1h-6zM110 769h2v1h-2zM123 769h1v1h-1zM130 769h2v1h-2zM341 769h1v1h-1zM456 769h1v1h-1zM497 769h1v1h-1zM340 770h1v1h-1zM457 770h1v1h-1zM495 770h2v1h-2zM339 771h1v1h-1zM458 771h1v1h-1zM494 771h1v1h-1zM338 772h1v1h-1zM459 772h1v1h-1zM481 772h2v1h-2zM486 772h2v1h-2zM493 772h1v1h-1zM102 773h1v1h-1zM318 773h10v1h-10zM335 773h3v1h-3zM466 773h10v1h-10zM483 773h3v1h-3zM103 774h1v1h-1zM110 774h2v1h-2zM117 774h1v1h-1zM123 774h1v1h-1zM130 774h2v1h-2zM104 775h6v1h-6zM117 775h1v1h-1zM124 775h6v1h-6zM256 776h2v1h-2zM403 776h2v1h-2zM430 776h2v1h-2zM522 776h2v1h-2zM251 777h5v1h-5zM405 777h5v1h-5zM425 777h5v1h-5zM524 777h5v1h-5zM27 778h2v1h-2zM77 778h2v1h-2zM246 778h5v1h-5zM410 778h5v1h-5zM420 778h5v1h-5zM529 778h5v1h-5zM29 779h5v1h-5zM72 779h5v1h-5zM244 779h3v1h-3zM259 779h143v1h-143zM414 779h3v1h-3zM418 779h3v1h-3zM433 779h88v1h-88zM533 779h3v1h-3zM34 780h5v1h-5zM67 780h5v1h-5zM247 780h8v1h-8zM406 780h8v1h-8zM421 780h8v1h-8zM525 780h8v1h-8zM12 781h14v1h-14zM38 781h3v1h-3zM42 781h22v1h-22zM65 781h3v1h-3zM80 781h58v1h-58zM255 781h3v1h-3zM403 781h3v1h-3zM429 781h3v1h-3zM522 781h3v1h-3zM30 782h8v1h-8zM68 782h8v1h-8zM27 783h3v1h-3zM76 783h3v1h-3zM442 801h2v1h-2zM445 801h5v1h-5zM450 802h1v1h-1zM664 802h1v1h-1zM764 802h1v1h-1zM451 803h1v1h-1zM664 803h1v1h-1zM764 803h1v1h-1zM426 804h1v1h-1zM436 804h1v1h-1zM427 805h1v1h-1zM435 805h1v1h-1zM428 806h1v1h-1zM434 806h1v1h-1zM460 806h6v1h-6zM492 806h6v1h-6zM508 806h6v1h-6zM521 806h5v1h-5zM527 806h4v1h-4zM558 806h3v1h-3zM571 806h6v1h-6zM587 806h6v1h-6zM603 806h3v1h-3zM632 806h5v1h-5zM638 806h4v1h-4zM653 806h4v1h-4zM672 806h7v1h-7zM703 806h6v1h-6zM719 806h6v1h-6zM738 806h3v1h-3zM748 806h5v1h-5zM754 806h4v1h-4zM772 806h6v1h-6zM788 806h6v1h-6zM429 807h1v1h-1zM433 807h1v1h-1zM459 807h1v1h-1zM466 807h1v1h-1zM491 807h1v1h-1zM498 807h1v1h-1zM507 807h1v1h-1zM514 807h1v1h-1zM557 807h1v1h-1zM561 807h1v1h-1zM570 807h1v1h-1zM577 807h1v1h-1zM586 807h1v1h-1zM593 807h1v1h-1zM602 807h1v1h-1zM606 807h1v1h-1zM652 807h1v1h-1zM657 807h1v1h-1zM671 807h1v1h-1zM702 807h1v1h-1zM709 807h1v1h-1zM718 807h1v1h-1zM725 807h1v1h-1zM737 807h1v1h-1zM741 807h1v1h-1zM771 807h1v1h-1zM778 807h1v1h-1zM787 807h1v1h-1zM794 807h1v1h-1zM430 808h1v1h-1zM432 808h1v1h-1zM459 808h1v1h-1zM467 808h1v1h-1zM490 808h1v1h-1zM499 808h1v1h-1zM506 808h1v1h-1zM514 808h1v1h-1zM556 808h1v1h-1zM562 808h1v1h-1zM570 808h1v1h-1zM578 808h1v1h-1zM585 808h1v1h-1zM594 808h1v1h-1zM601 808h1v1h-1zM607 808h2v1h-2zM650 808h2v1h-2zM670 808h1v1h-1zM702 808h1v1h-1zM710 808h1v1h-1zM718 808h1v1h-1zM726 808h1v1h-1zM735 808h2v1h-2zM741 808h1v1h-1zM770 808h1v1h-1zM779 808h1v1h-1zM786 808h1v1h-1zM795 808h1v1h-1zM426 809h5v1h-5zM432 809h5v1h-5zM555 809h1v1h-1zM579 809h1v1h-1zM609 809h1v1h-1zM649 809h1v1h-1zM669 809h1v1h-1zM734 809h1v1h-1zM430 810h1v1h-1zM432 810h1v1h-1zM554 810h1v1h-1zM577 810h2v1h-2zM610 810h1v1h-1zM670 810h2v1h-2zM733 810h1v1h-1zM429 811h1v1h-1zM433 811h1v1h-1zM570 811h7v1h-7zM672 811h6v1h-6zM428 812h1v1h-1zM434 812h1v1h-1zM554 812h1v1h-1zM610 812h1v1h-1zM678 812h1v1h-1zM427 813h1v1h-1zM435 813h1v1h-1zM555 813h1v1h-1zM608 813h2v1h-2zM678 813h1v1h-1zM426 814h1v1h-1zM436 814h1v1h-1zM527 814h1v1h-1zM531 814h1v1h-1zM556 814h1v1h-1zM607 814h1v1h-1zM638 814h1v1h-1zM641 814h1v1h-1zM679 814h1v1h-1zM754 814h1v1h-1zM758 814h1v1h-1zM450 815h2v1h-2zM459 815h1v1h-1zM466 815h2v1h-2zM506 815h2v1h-2zM514 815h1v1h-1zM528 815h1v1h-1zM530 815h1v1h-1zM557 815h1v1h-1zM561 815h2v1h-2zM570 815h1v1h-1zM601 815h2v1h-2zM606 815h1v1h-1zM639 815h1v1h-1zM641 815h1v1h-1zM678 815h1v1h-1zM709 815h2v1h-2zM718 815h1v1h-1zM725 815h2v1h-2zM755 815h1v1h-1zM757 815h1v1h-1zM770 815h2v1h-2zM778 815h2v1h-2zM442 816h2v1h-2zM445 816h5v1h-5zM460 816h6v1h-6zM508 816h6v1h-6zM529 816h1v1h-1zM558 816h3v1h-3zM571 816h6v1h-6zM603 816h3v1h-3zM640 816h1v1h-1zM669 816h9v1h-9zM702 816h7v1h-7zM719 816h6v1h-6zM756 816h1v1h-1zM772 816h6v1h-6zM635 836h6v1h-6zM651 836h3v1h-3zM664 836h3v1h-3zM676 836h3v1h-3zM634 837h1v1h-1zM641 837h1v1h-1zM650 837h1v1h-1zM654 837h1v1h-1zM663 837h1v1h-1zM667 837h1v1h-1zM675 837h1v1h-1zM679 837h1v1h-1zM634 838h1v1h-1zM642 838h1v1h-1zM649 838h1v1h-1zM655 838h1v1h-1zM662 838h1v1h-1zM668 838h1v1h-1zM674 838h1v1h-1zM680 838h1v1h-1zM633 839h1v1h-1zM643 839h1v1h-1zM643 840h1v1h-1zM643 841h1v1h-1zM642 842h1v1h-1zM641 843h1v1h-1zM635 844h6v1h-6zM634 845h1v1h-1zM649 850h2v1h-2zM654 850h2v1h-2zM662 850h2v1h-2zM667 850h2v1h-2zM674 850h2v1h-2zM679 850h2v1h-2zM634 851h10v1h-10zM651 851h3v1h-3zM664 851h3v1h-3zM676 851h3v1h-3zM430 854h2v1h-2zM884 854h2v1h-2zM425 855h5v1h-5zM886 855h5v1h-5zM420 856h5v1h-5zM891 856h5v1h-5zM418 857h3v1h-3zM433 857h450v1h-450zM895 857h3v1h-3zM421 858h8v1h-8zM887 858h8v1h-8zM429 859h3v1h-3zM884 859h3v1h-3z"/>
</svg>
</body></html>
